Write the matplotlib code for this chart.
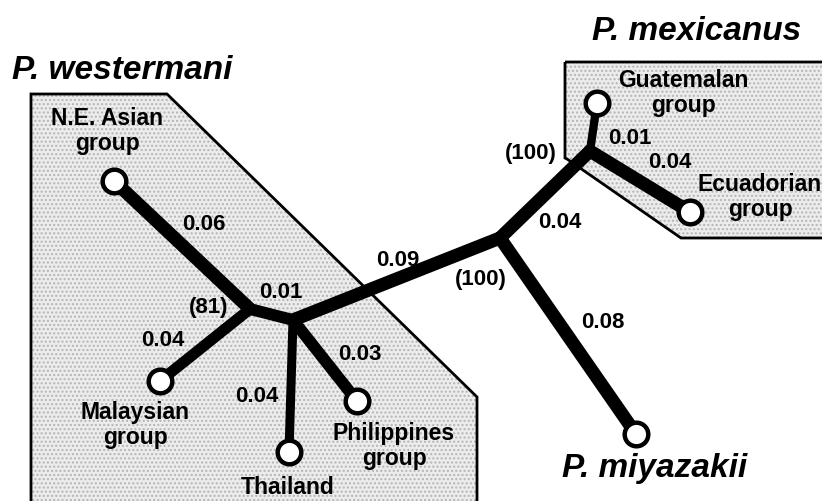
import matplotlib.pyplot as plt
from matplotlib.patches import Polygon

# tree layout (pixels, y pointing down)
node_x = [114, 160, 289, 357, 250, 293, 500, 590, 597, 690, 636]
node_y = [181, 381, 452, 401, 309, 320, 238, 151, 103, 212, 434]
# 0 NE Asia, 1 Malaysia, 2 Thailand, 3 Philippines, 4 (81), 5 inner, 6 (100), 7 (100) mex,
# 8 Guatemala, 9 Ecuador, 10 miyazakii
tips = [0, 1, 2, 3, 8, 9, 10]

edge_from = [4, 4, 4, 5, 5, 5, 6, 6, 7, 7]
edge_to = [0, 1, 5, 2, 3, 6, 10, 7, 8, 9]
edge_len = ['0.06', '0.04', '0.01', '0.04', '0.03', '0.09', '0.08', '0.04', '0.01', '0.04']
edge_w = [9.5, 8, 8.5, 6.5, 8.5, 9.5, 9.5, 9.5, 6, 9.5]
len_x = [204, 163, 281, 257, 360, 398, 603, 560, 630, 670]
len_y = [225, 340, 292, 397, 355, 261, 323, 222, 138, 163]

boot_node = [4, 6, 7]
boot_val = ['(81)', '(100)', '(100)']
boot_x = [209, 481, 531]
boot_y = [307, 280, 153]

tip_label = ['N.E. Asian\ngroup', 'Malaysian\ngroup', 'Thailand', 'Philippines\ngroup',
             'Guatemalan\ngroup', 'Ecuadorian\ngroup']
tip_lx = [107, 135, 288, 394, 683, 760]
tip_ly = [131, 425, 487, 446, 93, 197]

species = ['P. westermani', 'P. mexicanus', 'P. miyazakii']
sp_x = [122, 697, 655]
sp_y = [70, 31, 469]

west_box = [(31, 520), (31, 94), (167, 94), (477, 397), (477, 520)]
mex_box = [(565, 62), (830, 62), (830, 238), (681, 238), (567, 159), (565, 158)]

plt.rcParams['font.family'] = ['Liberation Sans', 'DejaVu Sans']

fig = plt.figure(figsize=(8.22, 5.01), dpi=100)
ax = fig.add_axes([0, 0, 1, 1])
ax.set_xlim(0, 822)
ax.set_ylim(501, 0)
ax.axis('off')

for box, closed in [(west_box, False), (mex_box, True)]:
    ax.add_patch(Polygon(box, closed=closed, facecolor='#ececec', edgecolor='#b4b4b4',
                         hatch='....', lw=0, zorder=1))
    ax.add_patch(Polygon(box, closed=closed, facecolor='none', edgecolor='black',
                         lw=2, joinstyle='miter', zorder=2))

for i in range(len(edge_from)):
    a = edge_from[i]
    b = edge_to[i]
    ax.plot([node_x[a], node_x[b]], [node_y[a], node_y[b]], color='black',
            lw=edge_w[i], solid_capstyle='round', zorder=3)
    ax.text(len_x[i], len_y[i], edge_len[i], ha='center', va='center',
            fontsize=16, fontweight='bold', zorder=5)

ax.plot([node_x[t] for t in tips], [node_y[t] for t in tips], 'o', ms=17,
        mfc='white', mec='black', mew=3.2, zorder=4)

for i in range(len(boot_val)):
    ax.text(boot_x[i], boot_y[i], boot_val[i], ha='center', va='center',
            fontsize=16, fontweight='bold', zorder=5)

for i in range(len(tip_label)):
    ax.text(tip_lx[i], tip_ly[i], tip_label[i], ha='center', va='center',
            fontsize=16.5, fontweight='bold', linespacing=1.1, zorder=5)

for i in range(len(species)):
    ax.text(sp_x[i], sp_y[i], species[i], ha='center', va='center', fontsize=24,
            fontweight='bold', fontstyle='italic', zorder=5)

fig.savefig('out.png', dpi=100)
